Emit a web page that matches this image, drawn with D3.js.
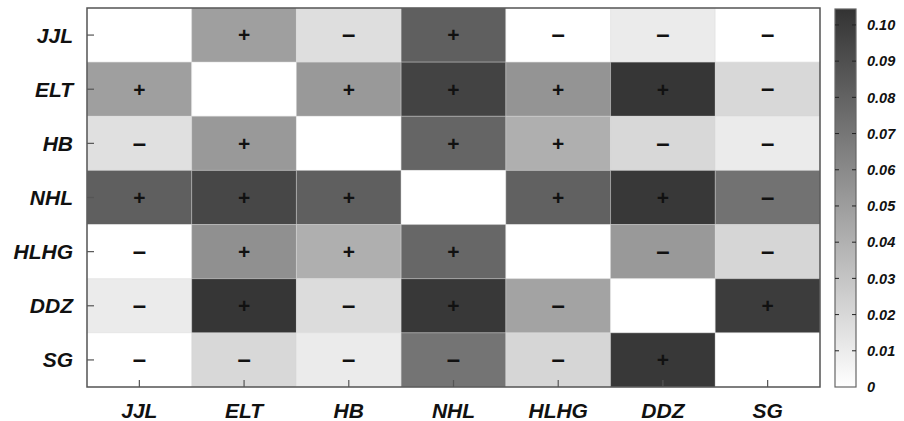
<!DOCTYPE html>
<html>
<head>
<meta charset="utf-8">
<script src="https://cdn.jsdelivr.net/npm/d3@7"></script>
<style>
  body { margin: 0; background: #fff; }
  svg { display: block; font-family: "Liberation Sans", Arial, sans-serif; }
</style>
</head>
<body>
<svg width="904" height="421"></svg>
<script>
// variables (same order on both axes)
var labels = ["JJL", "ELT", "HB", "NHL", "HLHG", "DDZ", "SG"];

// cell values, row by row (row = y label)
var values = [
  [0, 0.049, 0.017, 0.082, 0, 0.010, 0],
  [0.049, 0, 0.052, 0.096, 0.055, 0.103, 0.020],
  [0.016, 0.052, 0, 0.079, 0.041, 0.020, 0.010],
  [0.082, 0.094, 0.082, 0, 0.081, 0.102, 0.072],
  [0, 0.057, 0.041, 0.078, 0, 0.052, 0.021],
  [0.010, 0.103, 0.018, 0.102, 0.047, 0, 0.100],
  [0, 0.020, 0.010, 0.071, 0.021, 0.102, 0]
];

// sign shown in each cell
var signs = [
  ["", "+", "-", "+", "-", "-", "-"],
  ["+", "", "+", "+", "+", "+", "-"],
  ["-", "+", "", "+", "+", "-", "-"],
  ["+", "+", "+", "", "+", "+", "-"],
  ["-", "+", "+", "+", "", "-", "-"],
  ["-", "+", "-", "+", "-", "", "+"],
  ["-", "-", "-", "-", "-", "+", ""]
];

var colorTicks = [0, 0.01, 0.02, 0.03, 0.04, 0.05, 0.06, 0.07, 0.08, 0.09, 0.10];
var colorMax = 0.1044;

var plot = { left: 87, right: 820, top: 8, bottom: 387 };
var bar = { left: 835, right: 856, top: 9, bottom: 387 };

var svg = d3.select("svg");

var xScale = d3.scaleBand().domain(labels).range([plot.left, plot.right]);
var yScale = d3.scaleBand().domain(labels).range([plot.top, plot.bottom]);
var color = d3.scaleLinear().domain([0, colorMax]).range(["#ffffff", "#333333"]);

// celdas
var cells = [];
values.forEach(function (row, i) {
  row.forEach(function (v, j) {
    cells.push({ row: labels[i], col: labels[j], v: v, s: signs[i][j] });
  });
});

svg.append("g").selectAll("rect")
  .data(cells)
  .enter().append("rect")
  .attr("x", function (d) { return xScale(d.col); })
  .attr("y", function (d) { return yScale(d.row); })
  .attr("width", xScale.bandwidth())
  .attr("height", yScale.bandwidth())
  .attr("fill", function (d) { return color(d.v); })
  .attr("stroke", "#dddddd")
  .attr("stroke-opacity", 0.35)
  .attr("stroke-width", 1);

svg.append("g").selectAll("text")
  .data(cells.filter(function (d) { return d.s !== ""; }))
  .enter().append("text")
  .attr("x", function (d) { return xScale(d.col) + xScale.bandwidth() / 2; })
  .attr("y", function (d) { return yScale(d.row) + yScale.bandwidth() / 2; })
  .attr("dy", function (d) { return d.s === "+" ? "0.35em" : "0.3em"; })
  .attr("text-anchor", "middle")
  .attr("font-size", function (d) { return d.s === "+" ? 21 : 24; })
  .attr("font-weight", "bold")
  .attr("fill", "#111")
  .text(function (d) { return d.s === "+" ? "+" : "\u2013"; });

// ejes
var xAxis = d3.axisBottom(xScale).tickSizeInner(-7).tickSizeOuter(0).tickPadding(16);
var yAxis = d3.axisLeft(yScale).tickSizeInner(-7).tickSizeOuter(0).tickPadding(14);

var gx = svg.append("g")
  .attr("transform", "translate(0," + plot.bottom + ")")
  .call(xAxis);
var gy = svg.append("g")
  .attr("transform", "translate(" + plot.left + ",0)")
  .call(yAxis);

[gx, gy].forEach(function (g) {
  g.select(".domain").remove();
  g.selectAll(".tick line").attr("stroke", "#555").attr("stroke-width", 1.2);
  g.selectAll(".tick text")
    .attr("font-size", 21)
    .attr("font-weight", "bold")
    .attr("font-style", "italic")
    .attr("fill", "#111")
    .attr("font-family", "\"Liberation Sans\", Arial, sans-serif");
});
gx.selectAll(".tick text").attr("dy", "0.71em");
gy.selectAll(".tick text").attr("dy", "0.36em");

svg.append("rect")
  .attr("x", plot.left)
  .attr("y", plot.top)
  .attr("width", plot.right - plot.left)
  .attr("height", plot.bottom - plot.top)
  .attr("fill", "none")
  .attr("stroke", "#555")
  .attr("stroke-width", 1.5);

// barra de color
var cScale = d3.scaleLinear().domain([0, colorMax]).range([bar.bottom, bar.top]);

var grad = svg.append("defs").append("linearGradient")
  .attr("id", "cbar")
  .attr("x1", 0).attr("y1", 1).attr("x2", 0).attr("y2", 0);
grad.append("stop").attr("offset", 0).attr("stop-color", color(0));
grad.append("stop").attr("offset", 1).attr("stop-color", color(colorMax));

svg.append("rect")
  .attr("x", bar.left)
  .attr("y", bar.top)
  .attr("width", bar.right - bar.left)
  .attr("height", bar.bottom - bar.top)
  .attr("fill", "url(#cbar)")
  .attr("stroke", "#666")
  .attr("stroke-width", 1.2);

var cb = svg.append("g").selectAll("g")
  .data(colorTicks)
  .enter().append("g")
  .attr("transform", function (d) { return "translate(0," + cScale(d) + ")"; });

cb.filter(function (d) { return d > 0; }).append("line")
  .attr("x1", bar.left).attr("x2", bar.left + 4)
  .attr("stroke", "#222").attr("stroke-width", 1);
cb.filter(function (d) { return d > 0; }).append("line")
  .attr("x1", bar.right - 4).attr("x2", bar.right)
  .attr("stroke", "#222").attr("stroke-width", 1);

cb.append("text")
  .attr("x", 867)
  .attr("dy", "0.36em")
  .attr("font-size", 14.5)
  .attr("font-weight", "bold")
  .attr("font-style", "italic")
  .attr("fill", "#111")
  .text(function (d) { return d === 0 ? "0" : d3.format(".2f")(d); });
</script>
</body>
</html>
